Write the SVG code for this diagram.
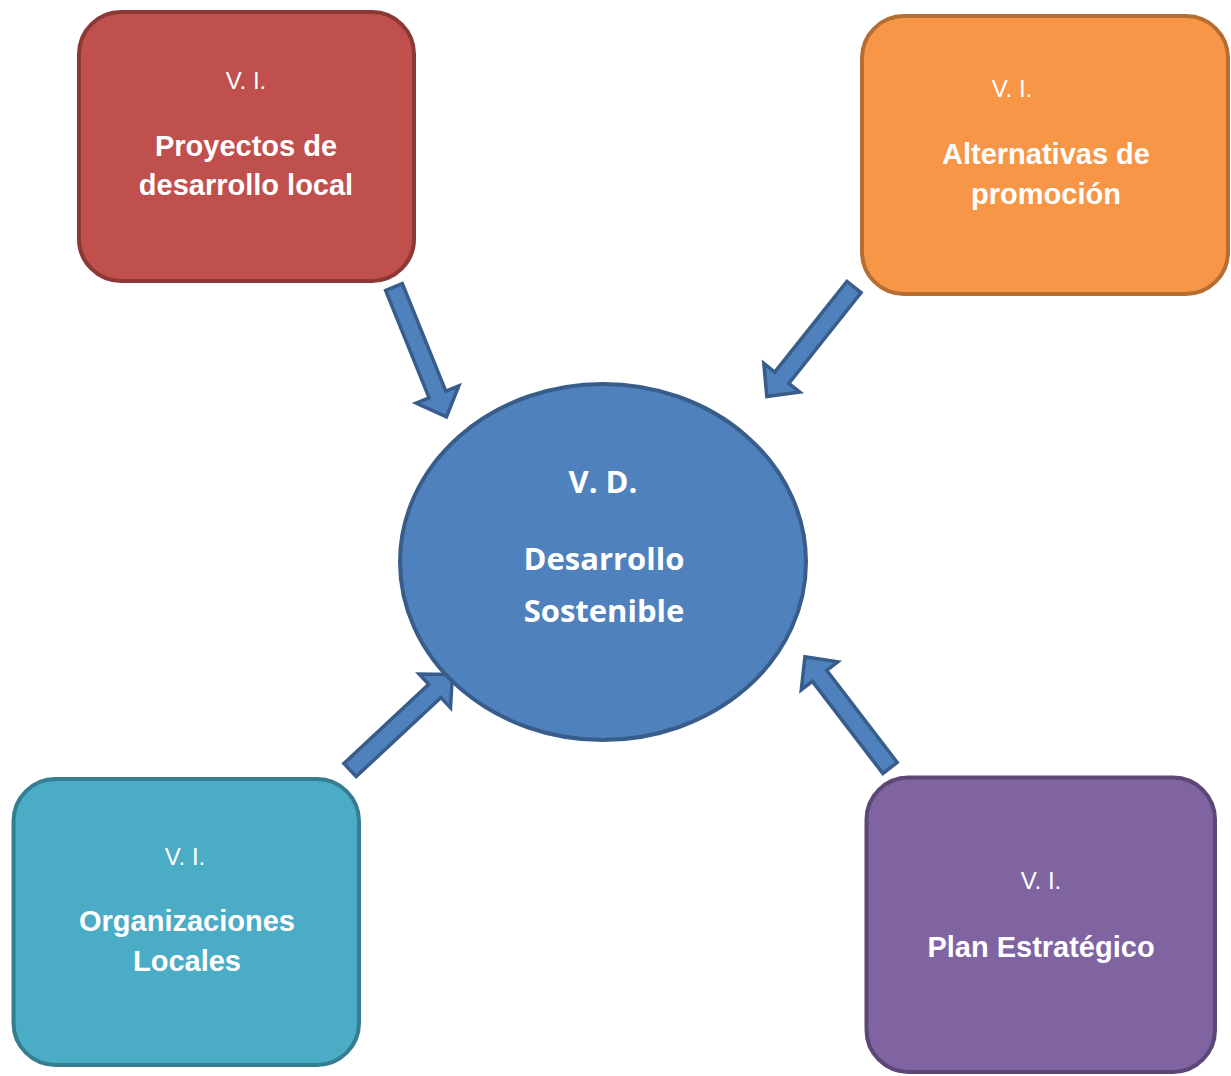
<svg xmlns="http://www.w3.org/2000/svg" xmlns:xlink="http://www.w3.org/1999/xlink" width="1231" height="1076" viewBox="0 0 1231 1076">
<style>
.vi{font-family:"Liberation Sans",Arial,sans-serif;font-size:24px;fill:#fff;text-anchor:middle}
.t{font-family:"Liberation Sans",Arial,sans-serif;font-size:29px;font-weight:bold;fill:#fff;text-anchor:middle}
.c{font-family:"Open Sans","DejaVu Sans",sans-serif;font-size:31px;font-weight:bold;fill:#fff;text-anchor:middle}
.arrow{fill:#4F81BD;stroke:#385D8A;stroke-width:3.5;stroke-linejoin:miter}
.box{stroke-width:4}
</style>
<defs>
<path id="arr" d="M0,-9 H116 V-23 L140,0 L116,23 V9 H0 Z"/>
</defs>
<rect width="1231" height="1076" fill="#fff"/>
<g id="connectors">
<use xlink:href="#arr" class="arrow" transform="translate(394,287) rotate(68)"/>
<use xlink:href="#arr" class="arrow" transform="translate(854,287) rotate(128.5)"/>
<use xlink:href="#arr" class="arrow" transform="translate(350,770) rotate(-43)"/>
<use xlink:href="#arr" class="arrow" transform="translate(890,768) rotate(-127.4)"/>
</g>
<g id="node-center">
<ellipse cx="603" cy="562" rx="203" ry="178" fill="#4F81BD" stroke="#385D8A" stroke-width="4"/>
<text class="c" x="603" y="493">V. D.</text>
<text class="c" x="604" y="570">Desarrollo</text>
<text class="c" x="604" y="622">Sostenible</text>
</g>
<g id="node-proyectos">
<rect class="box" x="79" y="12" width="335" height="269" rx="42" fill="#C0504D" stroke="#8C3836"/>
<text class="vi" x="246" y="89">V. I.</text>
<text class="t" x="246" y="156">Proyectos de</text>
<text class="t" x="246" y="195">desarrollo local</text>
</g>
<g id="node-alternativas">
<rect class="box" x="862" y="16" width="366" height="278" rx="42" fill="#F79646" stroke="#B66D31"/>
<text class="vi" x="1012" y="97">V. I.</text>
<text class="t" x="1046" y="164">Alternativas de</text>
<text class="t" x="1046" y="204">promoción</text>
</g>
<g id="node-organizaciones">
<rect class="box" x="13.5" y="779" width="345.5" height="286" rx="42" fill="#4BACC6" stroke="#357D91"/>
<text class="vi" x="185" y="865">V. I.</text>
<text class="t" x="187" y="931">Organizaciones</text>
<text class="t" x="187" y="971">Locales</text>
</g>
<g id="node-plan">
<rect class="box" x="866.5" y="777.5" width="348.5" height="294.5" rx="42" fill="#8064A2" stroke="#5C4776"/>
<text class="vi" x="1041" y="889">V. I.</text>
<text class="t" x="1041" y="957">Plan Estratégico</text>
</g>
</svg>
